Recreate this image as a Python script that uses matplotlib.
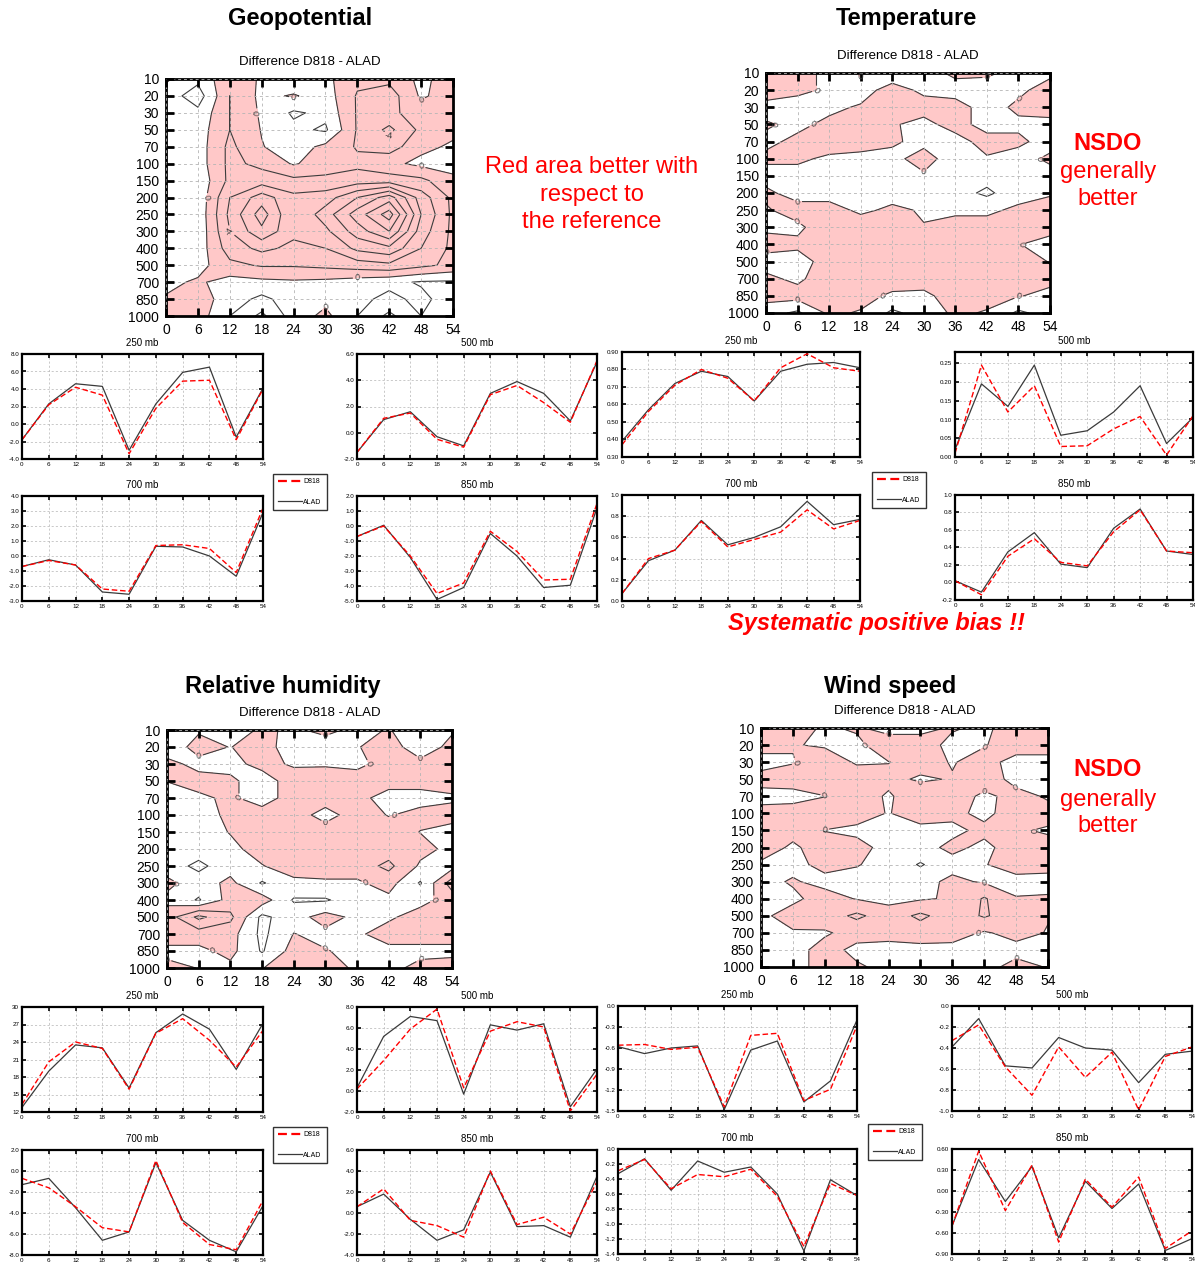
import numpy as np
import matplotlib
matplotlib.use("Agg")
import matplotlib.pyplot as plt
from matplotlib.lines import Line2D
from matplotlib.ticker import FormatStrFormatter

plt.rcParams['font.family'] = ['Liberation Sans', 'DejaVu Sans']
plt.rcParams['contour.negative_linestyle'] = 'solid'

# ---------------------------------------------------------------- data
hours = [0, 6, 12, 18, 24, 30, 36, 42, 48, 54]
pressure_levels = ["10", "20", "30", "50", "70", "100", "150", "200",
                   "250", "300", "400", "500", "700", "850", "1000"]

# Difference D818 - ALAD (rows: pressure levels top->bottom, cols: lead hours)
geo_diff = [
    [-0.3, 1.5, -1.5, 0.3, 1.5, 0.5, -1.5, -1.5, 0.5, -1.0],
    [1.0, 3.0, -2.0, 0.5, -0.2, 1.0, -2.2, -3.0, 0.3, -1.0],
    [1.0, 1.5, -2.0, 0.3, 2.3, 1.5, -2.2, -2.5, -1.0, -1.0],
    [1.0, 1.0, -2.0, 0.1, 1.5, 2.3, -2.2, -4.5, -1.5, -0.5],
    [1.0, 1.0, -2.5, -0.1, 1.0, -0.5, -2.2, -3.0, -0.5, 0.3],
    [1.0, 1.0, -2.5, -1.5, 0.2, -1.0, -1.5, -0.5, 0.5, 0.8],
    [1.0, 1.5, -2.5, -3.0, -2.5, -2.5, -3.0, -3.0, -2.5, -0.5],
    [1.0, 1.5, -4.0, -7.0, -4.5, -5.0, -8.0, -11.0, -5.0, -1.5],
    [1.0, 1.5, -4.5, -9.0, -4.0, -7.0, -11.0, -15.0, -6.0, -1.5],
    [1.0, 1.5, -4.0, -7.5, -4.5, -5.5, -9.0, -12.0, -5.0, -1.5],
    [1.0, 1.2, -3.0, -4.5, -3.5, -4.0, -6.5, -7.5, -4.0, -1.5],
    [1.0, 0.8, -1.5, -2.2, -2.2, -2.5, -3.0, -3.5, -2.5, -1.5],
    [0.5, -0.3, 0.8, 0.5, 0.3, 0.5, 1.0, 1.5, 2.2, 2.3],
    [-0.2, -1.0, 1.0, 2.5, 1.0, 0.5, 1.5, 2.5, 1.5, 3.0],
    [-1.0, -1.0, 2.0, 4.5, 1.0, -0.5, 2.0, 4.5, 2.0, 3.0],
]
temp_diff = [
    [-0.4, -0.3, 0.2, -0.05, 0.3, 0.2, -0.1, -0.1, 0.2, 0.1],
    [-0.3, -0.15, 0.1, 0.2, -0.2, 0.1, 0.2, 0.3, 0.1, -0.2],
    [0.2, 0.3, 0.1, -0.05, -0.3, -0.2, -0.2, 0.2, -0.1, -0.3],
    [-0.05, 0.1, -0.1, -0.3, -0.05, 0.15, -0.2, 0.2, 0.1, 0.2],
    [0.1, -0.1, -0.3, -0.3, -0.05, 0.1, 0.2, -0.2, -0.1, 0.2],
    [-0.1, -0.1, 0.1, 0.2, 0.1, -0.15, 0.2, 0.05, 0.2, -0.1],
    [0.2, 0.2, 0.3, 0.3, 0.3, 0.05, 0.3, 0.3, 0.2, 0.2],
    [-0.1, 0.2, 0.2, 0.3, 0.2, 0.3, 0.3, 0.6, 0.2, 0.05],
    [0.05, -0.2, -0.2, 0.1, -0.1, 0.05, 0.1, 0.1, -0.1, -0.2],
    [0.1, 0.1, -0.3, -0.3, -0.3, -0.02, -0.2, -0.2, -0.05, -0.2],
    [-0.2, -0.1, -0.3, -0.4, -0.4, -0.3, -0.3, -0.3, -0.02, 0.2],
    [0.2, 0.2, -0.2, -0.4, -0.4, -0.3, -0.3, -0.3, -0.2, 0.02],
    [-0.1, 0.1, -0.3, -0.4, -0.3, -0.2, -0.3, -0.3, -0.2, -0.1],
    [-0.2, -0.2, -0.3, -0.2, 0.1, 0.1, -0.2, -0.2, -0.02, 0.1],
    [0.3, 0.6, -0.1, 0.05, 0.6, 0.3, -0.1, 0.05, 0.6, 0.3],
]
rh_diff = [
    [1.0, 0.2, 1.0, -0.3, 0.3, -0.5, 0.5, -0.1, 1.0, 0.2],
    [1.0, -0.6, 0.05, -0.8, 1.0, 1.0, 0.1, -0.8, 1.0, -0.5],
    [-0.5, 0.5, 0.5, -0.5, 0.2, 0.2, 0.5, -0.8, -0.5, -0.8],
    [-0.05, -0.6, -0.3, 0.8, -0.8, -1.0, -1.0, -0.8, -0.6, -0.6],
    [1.0, 0.3, -0.3, 0.8, -0.8, -1.0, -0.6, 0.8, 0.6, 0.2],
    [1.0, 1.0, -0.5, -0.8, -1.0, 0.8, -1.0, 0.1, -0.5, -0.5],
    [1.0, 1.0, -0.1, -1.0, -1.0, -1.0, -1.0, -1.0, 0.05, 0.5],
    [1.0, 1.0, 0.5, -0.8, -1.0, -1.0, -1.0, -1.0, -0.6, 0.5],
    [1.0, 2.5, 0.8, 0.1, -1.0, -1.0, -1.0, -2.5, 0.3, 0.8],
    [-0.5, 1.0, -0.5, 2.2, 0.5, 0.3, 0.3, -0.8, 2.2, -3.0],
    [0.5, 2.2, -0.8, -1.0, 2.2, 2.2, 1.0, 0.5, 0.6, -0.8],
    [-1.0, -4.5, -2.5, 2.5, 0.8, -0.8, 0.5, 0.3, -0.8, -1.0],
    [-1.0, -1.0, -0.8, 2.5, -0.05, 0.5, 0.3, -0.8, -0.8, -0.8],
    [0.5, 0.5, -0.6, 2.2, -0.8, -0.1, 0.5, 0.5, 0.5, 0.5],
    [-0.5, 0.05, 0.5, 0.05, -0.8, -0.8, 0.3, 0.5, -0.5, -0.8],
]
wind_diff = [
    [-0.5, -0.3, 0.1, -0.1, 0.3, 0.3, -0.1, 0.2, -0.5, -0.5],
    [-0.3, -0.05, 0.1, 0.2, -0.5, -0.5, 0.3, 0.05, -0.4, -0.4],
    [0.3, 0.05, -0.5, 0.1, 0.02, -0.3, 0.05, -0.3, 0.3, 0.3],
    [-0.3, -0.4, -0.6, -0.5, -0.2, 0.1, -0.05, -0.5, 0.3, 0.3],
    [0.3, 0.3, 0.02, -0.4, 0.1, -0.5, -0.5, 0.2, -0.3, 0.1],
    [-0.3, -0.4, -0.5, -0.4, 0.05, -0.5, -0.2, 0.2, -0.4, -0.3],
    [-0.3, -0.2, 0.02, 0.2, 0.3, 0.3, 0.2, -0.2, -0.1, 0.1],
    [-0.3, 0.1, -0.3, -0.3, 0.3, 0.3, -0.2, 0.2, -0.4, -0.3],
    [0.1, 0.3, -0.3, -0.05, 0.3, 1.1, 0.3, 0.05, -0.4, -0.3],
    [0.3, -0.1, 0.3, 0.3, 0.3, 0.3, -0.2, 0.1, 0.3, 0.3],
    [0.3, 0.2, -0.4, 0.05, 0.3, 0.1, -0.1, -1.1, -0.05, -0.1],
    [0.2, -0.4, -0.5, -1.2, -0.5, -1.2, -0.5, -1.1, -0.5, -0.05],
    [0.3, 0.1, 0.1, -0.3, -0.3, -0.5, -0.4, 0.1, -0.3, 0.05],
    [0.3, 0.3, -0.3, 0.2, 0.3, 0.3, 0.3, 0.3, 0.3, 0.3],
    [0.3, 0.3, -0.3, -0.1, 0.2, 0.3, 0.3, 0.3, -0.3, 0.05],
]

# Scores by lead time at single levels
geo_250_d818 = [-1.8, 2.2, 4.2, 3.3, -3.4, 1.8, 4.9, 5.0, -1.8, 4.0]
geo_250_alad = [-1.8, 2.3, 4.6, 4.3, -3.0, 2.3, 5.9, 6.5, -1.5, 4.1]
geo_500_d818 = [-1.5, 1.1, 1.5, -0.5, -1.1, 2.9, 3.6, 2.3, 0.8, 5.5]
geo_500_alad = [-1.5, 1.0, 1.6, -0.3, -1.0, 3.0, 3.9, 3.0, 0.9, 5.4]
geo_700_d818 = [-0.7, -0.3, -0.6, -2.2, -2.35, 0.7, 0.75, 0.5, -1.1, 3.2]
geo_700_alad = [-0.7, -0.25, -0.6, -2.4, -2.55, 0.65, 0.6, 0.0, -1.35, 2.9]
geo_850_d818 = [-0.7, 0.0, -2.0, -4.5, -3.8, -0.35, -1.7, -3.6, -3.55, 1.5]
geo_850_alad = [-0.7, 0.05, -2.1, -4.9, -4.1, -0.5, -2.0, -4.1, -3.95, 1.2]

temp_250_d818 = [0.37, 0.56, 0.71, 0.80, 0.75, 0.62, 0.81, 0.89, 0.81, 0.79]
temp_250_alad = [0.39, 0.57, 0.72, 0.79, 0.76, 0.62, 0.79, 0.83, 0.84, 0.81]
temp_500_d818 = [0.01, 0.245, 0.12, 0.19, 0.028, 0.03, 0.075, 0.108, 0.005, 0.11]
temp_500_alad = [0.02, 0.195, 0.135, 0.245, 0.058, 0.07, 0.12, 0.19, 0.036, 0.105]
temp_700_d818 = [0.07, 0.40, 0.48, 0.75, 0.51, 0.58, 0.65, 0.86, 0.68, 0.76]
temp_700_alad = [0.07, 0.38, 0.48, 0.76, 0.53, 0.60, 0.70, 0.94, 0.72, 0.77]
temp_850_d818 = [0.02, -0.14, 0.30, 0.50, 0.23, 0.19, 0.58, 0.83, 0.36, 0.34]
temp_850_alad = [0.02, -0.11, 0.35, 0.57, 0.21, 0.17, 0.62, 0.84, 0.36, 0.32]

rh_250_d818 = [13.3, 20.6, 24.0, 22.9, 15.9, 25.5, 28.0, 24.3, 19.7, 26.0]
rh_250_alad = [12.8, 19.0, 23.5, 23.0, 16.1, 25.6, 28.8, 26.2, 19.3, 27.2]
rh_500_d818 = [0.2, 2.9, 5.9, 7.8, 0.3, 5.7, 6.6, 6.1, -1.9, 1.6]
rh_500_alad = [0.3, 5.2, 7.1, 6.7, -0.3, 6.3, 5.8, 6.4, -1.5, 2.1]
rh_700_d818 = [-0.7, -1.6, -3.4, -5.4, -5.8, 1.0, -4.9, -7.0, -7.5, -2.8]
rh_700_alad = [-1.3, -0.7, -3.5, -6.6, -5.8, 0.8, -4.7, -6.6, -7.7, -3.3]
rh_850_d818 = [0.6, 2.3, -0.7, -1.2, -2.3, 4.0, -1.1, -0.4, -2.0, 3.0]
rh_850_alad = [0.6, 1.8, -0.6, -2.6, -1.6, 3.9, -1.3, -1.2, -2.3, 3.5]

wind_250_d818 = [-0.56, -0.55, -0.62, -0.59, -1.44, -0.42, -0.39, -1.35, -1.19, -0.28]
wind_250_alad = [-0.58, -0.68, -0.60, -0.57, -1.48, -0.63, -0.50, -1.37, -1.07, -0.20]
wind_500_d818 = [-0.33, -0.18, -0.58, -0.85, -0.39, -0.68, -0.44, -0.99, -0.48, -0.39]
wind_500_alad = [-0.39, -0.12, -0.57, -0.59, -0.30, -0.40, -0.42, -0.73, -0.46, -0.43]
wind_700_d818 = [-0.29, -0.14, -0.53, -0.34, -0.37, -0.27, -0.63, -1.30, -0.46, -0.62]
wind_700_alad = [-0.33, -0.13, -0.55, -0.16, -0.31, -0.24, -0.60, -1.36, -0.41, -0.62]
wind_850_d818 = [-0.50, 0.57, -0.28, 0.37, -0.73, 0.17, -0.23, 0.20, -0.82, -0.57]
wind_850_alad = [-0.50, 0.45, -0.15, 0.35, -0.67, 0.14, -0.25, 0.10, -0.85, -0.68]

# ---------------------------------------------------------------- layout
W, H = 1195, 1268
fig = plt.figure(figsize=(W / 100, H / 100), dpi=100)

PINK = '#ffc8c8'
RED = '#ff0000'
GRID = '#b4b4b4'


def box(left, top, right, bottom):
    return fig.add_axes([left / W, 1 - bottom / H, (right - left) / W, (bottom - top) / H])


def draw_map(ax, grid, line_levels, label_levels):
    z = np.array(grid, dtype=float)
    x = np.array(hours, dtype=float)
    y = np.arange(len(pressure_levels), dtype=float)
    ax.contourf(x, y, z, levels=[z.min() - 1.0, 0.0], colors=[PINK])
    cs = ax.contour(x, y, z, levels=line_levels, colors='#3c3c3c',
                    linewidths=0.8, linestyles='solid')
    lab = [lv for lv in label_levels if lv in cs.levels]
    if lab:
        ax.clabel(cs, levels=lab, fmt='%d', fontsize=6.5, inline=True, inline_spacing=2)
    ax.set_xlim(0, 54)
    ax.set_ylim(len(pressure_levels) - 1, 0)
    ax.set_xticks(hours)
    ax.set_yticks(y)
    ax.set_yticklabels(pressure_levels)
    ax.tick_params(direction='in', length=6, width=2, top=True, right=True,
                   labelsize=10, pad=5, colors='black')
    ax.set_axisbelow(False)
    ax.grid(True, ls=(0, (3.5, 3.5)), color=GRID, lw=0.6)
    for s in ax.spines.values():
        s.set_linewidth(2)
    ax.set_title('Difference D818 - ALAD', fontsize=9.5, pad=10)


def draw_series(ax, d818, alad, ylim, yticks, fmt, title):
    ax.plot(hours, alad, color='#3a3a3a', lw=0.9)
    ax.plot(hours, d818, color=RED, lw=1.0, ls=(0, (4, 2)))
    ax.set_xlim(0, 54)
    ax.set_ylim(*ylim)
    ax.set_xticks(hours)
    ax.set_yticks(yticks)
    ax.yaxis.set_major_formatter(FormatStrFormatter(fmt))
    ax.tick_params(direction='in', length=3, width=1.2, labelsize=4.5, pad=2,
                   top=True, right=True)
    ax.grid(True, ls=(0, (3, 3)), color=GRID, lw=0.5)
    for s in ax.spines.values():
        s.set_linewidth(1.6)
    ax.set_title(title, fontsize=7, pad=6)


def legend_at(cx, cy):
    handles = [Line2D([], [], color=RED, lw=1.6, ls=(0, (4, 2))),
               Line2D([], [], color='#3a3a3a', lw=0.9)]
    leg = fig.legend(handles, ['D818', 'ALAD'], loc='center',
                     bbox_to_anchor=(cx / W, 1 - cy / H), fontsize=5,
                     handlelength=3.4, labelspacing=1.9, handletextpad=0.2,
                     borderpad=0.7, fancybox=False, framealpha=1)
    leg.get_frame().set_edgecolor('#333333')
    leg.get_frame().set_linewidth(1.0)


def panel_title(x, y, text):
    fig.text(x / W, 1 - y / H, text, ha='center', va='center',
             fontsize=17, fontweight='bold')


def red_text(x, y, text, **kw):
    fig.text(x / W, 1 - y / H, text, ha='center', va='center',
             fontsize=17, color=RED, **kw)


# ---------------- Geopotential
panel_title(300, 18, 'Geopotential')
draw_map(box(166, 79, 453, 316), geo_diff, list(np.arange(-16, 7, 2)), [-4, 0])
draw_series(box(22, 354, 263, 459), geo_250_d818, geo_250_alad, (-4, 8),
            [-4, -2, 0, 2, 4, 6, 8], '%.1f', '250 mb')
draw_series(box(357, 354, 597, 459), geo_500_d818, geo_500_alad, (-2, 6),
            [-2, 0, 2, 4, 6], '%.1f', '500 mb')
draw_series(box(22, 496, 263, 601), geo_700_d818, geo_700_alad, (-3, 4),
            list(range(-3, 5)), '%.1f', '700 mb')
draw_series(box(357, 496, 597, 601), geo_850_d818, geo_850_alad, (-5, 2),
            list(range(-5, 3)), '%.1f', '850 mb')
legend_at(300, 492)
red_text(592, 167, 'Red area better with')
red_text(592, 195, 'respect to')
red_text(592, 222, 'the reference')

# ---------------- Temperature
panel_title(906, 18, 'Temperature')
draw_map(box(766, 73, 1050, 313), temp_diff, [0, 0.5], [0])
draw_series(box(622, 352, 860, 457), temp_250_d818, temp_250_alad, (0.3, 0.9),
            [0.3, 0.4, 0.5, 0.6, 0.7, 0.8, 0.9], '%.2f', '250 mb')
draw_series(box(955, 352, 1193, 457), temp_500_d818, temp_500_alad, (0.0, 0.28),
            [0.0, 0.05, 0.10, 0.15, 0.20, 0.25], '%.2f', '500 mb')
draw_series(box(622, 495, 860, 601), temp_700_d818, temp_700_alad, (0.0, 1.0),
            [0.0, 0.2, 0.4, 0.6, 0.8, 1.0], '%.1f', '700 mb')
draw_series(box(955, 495, 1193, 600), temp_850_d818, temp_850_alad, (-0.2, 1.0),
            [-0.2, 0.0, 0.2, 0.4, 0.6, 0.8, 1.0], '%.1f', '850 mb')
legend_at(899, 490)
red_text(1108, 143, 'NSDO', fontweight='bold')
red_text(1108, 172, 'generally')
red_text(1108, 199, 'better')
red_text(876, 623, 'Systematic positive bias !!', fontweight='bold', style='italic')

# ---------------- Relative humidity
panel_title(283, 686, 'Relative humidity')
draw_map(box(167, 730, 452, 968), rh_diff, [-4, -2, 0, 2], [0])
draw_series(box(22, 1007, 263, 1112), rh_250_d818, rh_250_alad, (12, 30),
            [12, 15, 18, 21, 24, 27, 30], '%d', '250 mb')
draw_series(box(357, 1007, 597, 1112), rh_500_d818, rh_500_alad, (-2, 8),
            [-2, 0, 2, 4, 6, 8], '%.1f', '500 mb')
draw_series(box(22, 1150, 263, 1255), rh_700_d818, rh_700_alad, (-8, 2),
            [-8, -6, -4, -2, 0, 2], '%.1f', '700 mb')
draw_series(box(357, 1150, 597, 1255), rh_850_d818, rh_850_alad, (-4, 6),
            [-4, -2, 0, 2, 4, 6], '%.1f', '850 mb')
legend_at(300, 1145)

# ---------------- Wind speed
panel_title(890, 686, 'Wind speed')
draw_map(box(761, 728, 1048, 967), wind_diff, [-1, 0, 1], [0])
draw_series(box(618, 1006, 857, 1111), wind_250_d818, wind_250_alad, (-1.5, 0.0),
            [-1.5, -1.2, -0.9, -0.6, -0.3, 0.0], '%.1f', '250 mb')
draw_series(box(952, 1006, 1192, 1111), wind_500_d818, wind_500_alad, (-1.0, 0.0),
            [-1.0, -0.8, -0.6, -0.4, -0.2, 0.0], '%.1f', '500 mb')
draw_series(box(618, 1149, 857, 1254), wind_700_d818, wind_700_alad, (-1.4, 0.0),
            [-1.4, -1.2, -1.0, -0.8, -0.6, -0.4, -0.2, 0.0], '%.1f', '700 mb')
draw_series(box(952, 1149, 1192, 1254), wind_850_d818, wind_850_alad, (-0.9, 0.6),
            [-0.9, -0.6, -0.3, 0.0, 0.3, 0.6], '%.2f', '850 mb')
legend_at(895, 1142)
red_text(1108, 770, 'NSDO', fontweight='bold')
red_text(1108, 800, 'generally')
red_text(1108, 826, 'better')

fig.savefig('out.png', dpi=100)
